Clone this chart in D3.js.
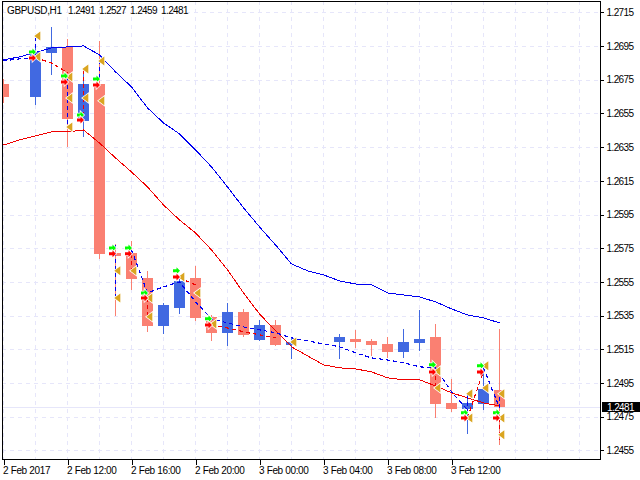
<!DOCTYPE html>
<html><head><meta charset="utf-8">
<script src="https://cdn.jsdelivr.net/npm/d3@7/dist/d3.min.js"></script>
<style>html,body{margin:0;padding:0;background:#fff}svg{display:block}text{font-family:"Liberation Sans",Arial,sans-serif;font-size:10px;fill:#000}</style>
</head><body><svg id="c" width="640" height="480"></svg>
<script>
// one entry per hourly bar; null = no bar
const opens =[1.26725,null,1.26648,1.26909,1.26945,1.26506,1.26725,1.25722,1.25722,1.25574,1.25289,1.25396,1.25574,1.25343,1.25248,1.25372,1.25206,1.25295,1.25176,null,null,1.25194,1.25212,1.25200,1.25182,1.25135,1.25188,1.25224,1.24832,1.24797,1.24826,1.2491];
const highs =[1.26755,null,1.26945,1.27064,1.26993,1.26814,1.26981,1.25776,1.25794,1.25616,1.25426,1.25592,1.25645,1.25354,1.25426,1.25390,1.25325,1.25325,1.25224,null,null,1.25242,1.25266,1.25212,1.25224,1.25271,1.25384,1.25301,1.24975,1.24880,1.25058,1.2527];
const lows  =[1.26619,null,1.26607,1.26785,1.26358,1.26417,1.25693,1.25354,1.25509,1.25259,1.25248,1.25366,1.25325,1.25206,1.25176,1.25230,1.25206,1.25176,1.25099,null,null,1.25099,1.25165,1.25117,1.25105,1.25105,1.25147,1.24749,1.24785,1.24654,1.24797,1.2459];
const closes=[1.26648,null,1.26912,1.26945,1.26518,1.26725,1.25717,1.25705,1.25568,1.25289,1.25414,1.25556,1.25337,1.25248,1.25372,1.25236,1.25295,1.25176,1.25194,null,null,1.25224,1.25194,1.25176,1.25135,1.25194,1.25212,1.24826,1.24797,1.24832,1.24915,1.2481];
const maBlue=[1.26868,1.26886,1.26912,1.26939,1.26945,1.26951,1.26898,1.26797,1.26708,1.26583,1.26494,1.26429,1.26334,1.26233,1.26114,1.25990,1.25877,1.25770,1.25657,1.25616,1.25592,1.25556,1.25538,1.25533,1.25485,1.25473,1.25461,1.25432,1.25390,1.25354,1.25337,1.25307];
const maRed =[1.26363,1.26393,1.26417,1.26441,1.26441,1.26452,1.26375,1.26286,1.26203,1.26114,1.26007,1.25918,1.25841,1.25740,1.25622,1.25485,1.25360,1.25260,1.25165,1.25111,1.25058,1.25040,1.25034,1.25016,1.24981,1.24969,1.24969,1.24933,1.24892,1.24862,1.24832,1.24814];
// dashed zig-zags: bar index and price, null separates pieces
const zigBlueBars  =[0,1,2,2,null,4,4,null,6,6,null,7,7,null,8,9,10,11,12,13,14,15,16,17,18,19,20,21,22,23,24,25,26,27,28,29,null,29,29,null,30,31,null,31,31];
const zigBluePrices=[1.26862,1.26874,1.26880,1.26998,null,1.26761,1.26470,null,1.26868,1.26761,null,1.25770,1.25444,null,1.25740,1.25485,1.25521,1.25550,1.25432,1.25331,1.25307,1.25283,1.25266,1.25248,1.25218,1.25200,1.25182,1.25165,1.25129,1.25099,1.25087,1.25070,1.25046,1.25040,1.24897,1.24791,null,1.24880,1.24773,null,1.25040,1.24802,null,1.24868,1.24791];
const zigRedBars   =[2,3,4,null,5,5,null,8,8,null,9,9,null,11,12,null,13,14,15,16,17,null,27,27,null,29,30,null,31,31];
const zigRedPrices =[1.26880,1.26850,1.26791,null,1.26809,1.26553,null,1.25717,1.25622,null,1.25455,1.25343,null,1.25574,1.25533,null,1.25295,1.25277,1.25254,1.25236,1.25218,null,1.25032,1.24921,null,1.24743,1.25022,null,1.24743,1.24613];
// signal markers
const arrowBars=[2,4,5,6,7,8,9,11,13,27,29,30,31];
const greenArrowPrices=[1.26915,1.26773,1.26541,1.26755,1.25752,1.25752,1.25485,1.25616,1.25331,1.25058,1.24773,1.25052,1.24773];
const redArrowPrices  =[1.26880,1.26737,1.26512,1.26719,1.25717,1.25717,1.25455,1.25580,1.25295,1.25016,1.24743,1.25016,1.24743];
const triBars  =[2,2,4,4,4,5,5,6,6,7,7,8,9,9,11,12,13,18,27,27,29,29,30,30,31,31,31];
const triPrices=[1.27010,1.26886,1.26767,1.26642,1.26470,1.26814,1.26642,1.26862,1.26625,1.25616,1.25455,1.25616,1.25455,1.25343,1.25580,1.25485,1.25301,1.25194,1.25022,1.24921,1.24886,1.24743,1.25052,1.24921,1.24886,1.24743,1.24643];
// axes
const priceTicks=[1.2715,1.2695,1.2675,1.2655,1.2635,1.2615,1.2595,1.2575,1.2555,1.2535,1.2515,1.2495,1.2475,1.2455];
const timeTickBars=[0,4,8,12,16,20,24,28];
const timeTickLabels=["2 Feb 2017","2 Feb 12:00","2 Feb 16:00","2 Feb 20:00","3 Feb 00:00","3 Feb 04:00","3 Feb 08:00","3 Feb 12:00"];
const gridBars=[0,2,4,6,8,10,12,14,16,18,20,22,24,26,28,30,32,34,36];
const lastPrice=1.2481;
const titleSymbol="GBPUSD,H1";
const titleValues=["1.2491","1.2527","1.2459","1.2481"];

const L=2,R=600,T=1,B=459;
const x=d3.scaleLinear().domain([0,31]).range([3,499]);
const y=d3.scaleLinear().domain([1.2455,1.2715]).range([450.4,12.4]);
const BLUE="#4169e1",SALMON="#fa8072",GRID="#e6e6fa",GOLD="#daa520";
const svg=d3.select("#c");
const defs=svg.append("defs");
defs.append("clipPath").attr("id","plot").append("rect").attr("x",L).attr("y",T).attr("width",R-L).attr("height",B-T);
const plot=svg.append("g").attr("clip-path","url(#plot)");
const px=v=>Math.round(x(v)), py=v=>Math.round(y(v));

// grid
const grid=plot.append("g").attr("stroke",GRID).attr("stroke-dasharray","4,4").attr("shape-rendering","crispEdges");
grid.selectAll(".v").data(gridBars).join("line").attr("x1",d=>px(d)+.5).attr("x2",d=>px(d)+.5).attr("y1",T).attr("y2",B);
grid.selectAll(".h").data(priceTicks).join("line").attr("y1",d=>py(d)+.5).attr("y2",d=>py(d)+.5).attr("x1",L).attr("x2",R);
plot.append("line").attr("x1",L).attr("x2",R).attr("y1",py(lastPrice)+.5).attr("y2",py(lastPrice)+.5).attr("stroke",GRID).attr("shape-rendering","crispEdges");

// candles
const bars=d3.range(opens.length).filter(i=>opens[i]!==null);
const col=i=>closes[i]>=opens[i]?BLUE:SALMON;
const cg=plot.append("g").attr("shape-rendering","crispEdges");
cg.selectAll(".w").data(bars).join("rect").attr("x",px).attr("width",1)
  .attr("y",i=>py(highs[i])).attr("height",i=>py(lows[i])-py(highs[i])+1).attr("fill",col);
cg.selectAll(".b").data(bars).join("rect").attr("x",i=>px(i)-5).attr("width",11)
  .attr("y",i=>py(Math.max(opens[i],closes[i]))).attr("height",i=>Math.max(1,py(Math.min(opens[i],closes[i]))-py(Math.max(opens[i],closes[i]))))
  .attr("fill",col);

// moving averages
const ma=d3.line().x((d,i)=>x(i)+.5).y(d=>y(d));
plot.append("path").attr("d",ma(maBlue)).attr("fill","none").attr("stroke","#0000f0").attr("stroke-width",1).attr("shape-rendering","crispEdges");
plot.append("path").attr("d",ma(maRed)).attr("fill","none").attr("stroke","#f00000").attr("stroke-width",1).attr("shape-rendering","crispEdges");

// dashed zig-zags
function zig(b,p,c){
  const pts=b.map((v,i)=>[v,p[i]]);
  const l=d3.line().defined(d=>d[0]!==null).x(d=>x(d[0])+.5).y(d=>y(d[1]));
  plot.append("path").attr("d",l(pts)).attr("fill","none").attr("stroke",c).attr("stroke-width",1.15).attr("stroke-dasharray","4,3").attr("shape-rendering","crispEdges");
}
zig(zigRedBars,zigRedPrices,"#f00000");
zig(zigBlueBars,zigBluePrices,"#0000f0");

// markers
const arrow="M-3.5,-1.5H0V-3.5L3.5,0L0,3.5V1.5H-3.5Z";
const tri="M-3.2,0L2.8,-4.5V4.5Z";
const mk=plot.append("g").attr("paint-order","stroke").attr("stroke-linejoin","miter");
mk.selectAll(".t").data(triBars).join("path").attr("d",tri)
  .attr("transform",(d,i)=>`translate(${x(d)+2.5},${y(triPrices[i])})`)
  .attr("fill",GOLD).attr("stroke","#fff").attr("stroke-width",1.5);
mk.selectAll(".g").data(arrowBars).join("path").attr("d",arrow)
  .attr("transform",(d,i)=>`translate(${x(d)-2.5},${y(greenArrowPrices[i])})`)
  .attr("fill","#00ff00").attr("stroke","#fff").attr("stroke-width",1.5);
mk.selectAll(".r").data(arrowBars).join("path").attr("d",arrow)
  .attr("transform",(d,i)=>`translate(${x(d)-2.5},${y(redArrowPrices[i])})`)
  .attr("fill","#ff0000").attr("stroke","#fff").attr("stroke-width",1.5);

// frame
svg.append("rect").attr("x",L+.5).attr("y",T+.5).attr("width",R-L).attr("height",B-T)
  .attr("fill","none").attr("stroke","#000").attr("shape-rendering","crispEdges");

// axes
const ya=d3.axisRight(y).tickValues(priceTicks).tickFormat(d3.format(".4f")).tickSize(3).tickPadding(3);
const yg=svg.append("g").attr("transform",`translate(${R+.5},0)`).call(ya);
const xa=d3.axisBottom(x).tickValues(timeTickBars).tickFormat((d,i)=>timeTickLabels[i]).tickSize(5).tickPadding(2);
const xg=svg.append("g").attr("transform",`translate(0.5,${B+.5})`).call(xa);
[yg,xg].forEach(g=>{g.select(".domain").remove();g.selectAll("line").attr("stroke","#000").attr("shape-rendering","crispEdges");g.selectAll("text").attr("fill","#000").style("font-size","10px");});
yg.selectAll("text").style("letter-spacing","-0.6px");
xg.selectAll("text").attr("text-anchor","start").attr("x",-1).style("letter-spacing","-0.35px");

// last price tag
svg.append("rect").attr("x",602).attr("y",402).attr("width",38).attr("height",10).attr("fill","#000");
svg.append("text").attr("x",607).attr("y",410.5).style("fill","#fff").style("letter-spacing","-0.6px").text(lastPrice.toFixed(4));

// title
const title=svg.append("text").attr("y",14);
title.append("tspan").attr("x",7).style("letter-spacing","-0.35px").text(titleSymbol);
title.selectAll(".v").data(titleValues).join("tspan").attr("x",(d,i)=>68+i*31).style("letter-spacing","-0.6px").text(d=>d);
</script></body></html>
